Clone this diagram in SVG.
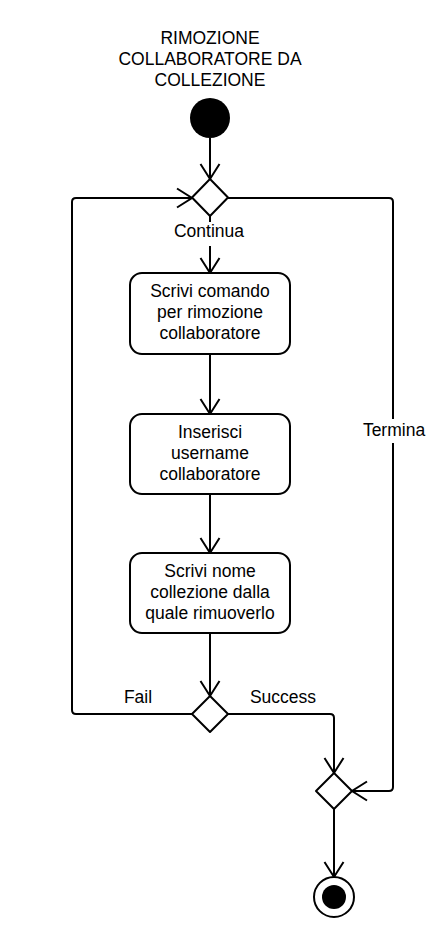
<svg xmlns="http://www.w3.org/2000/svg" width="442" height="950" viewBox="0 0 442 950">
<style>
.ln{fill:none;stroke:#000;stroke-width:2;stroke-linejoin:round}
.bx{fill:#fff;stroke:#000;stroke-width:2}
.t{font-family:"Liberation Sans",Arial,sans-serif;font-size:17.5px;fill:#000;text-anchor:middle}
</style>
<defs>
<marker id="a" viewBox="-16 -11 18 22" refX="0" refY="0" markerWidth="18" markerHeight="22" markerUnits="userSpaceOnUse" orient="auto">
<path d="M-15,-9.5 L0,0 L-15,9.5" fill="none" stroke="#000" stroke-width="2"/>
</marker>
</defs>
<rect width="442" height="950" fill="#fff"/>
<g id="title">
<text class="t" x="210" y="44">RIMOZIONE</text>
<text class="t" x="210" y="65">COLLABORATORE DA</text>
<text class="t" x="210" y="86">COLLEZIONE</text>
</g>
<g id="connectors">
<path class="ln" d="M210,138 V179" marker-end="url(#a)"/>
<path class="ln" d="M210,216 V222"/>
<path class="ln" d="M210,246 V273" marker-end="url(#a)"/>
<path class="ln" d="M210,354 V414" marker-end="url(#a)"/>
<path class="ln" d="M210,494 V553" marker-end="url(#a)"/>
<path class="ln" d="M210,633 V696" marker-end="url(#a)"/>
<path class="ln" d="M192,714 H76 Q72,714 72,710 V202 Q72,198 76,198 H192" marker-end="url(#a)"/>
<path class="ln" d="M228,714 H330 Q334,714 334,718 V773" marker-end="url(#a)"/>
<path class="ln" d="M228,198 H389 Q393,198 393,202 V419"/>
<path class="ln" d="M393,443 V787 Q393,791 389,791 H352" marker-end="url(#a)"/>
<path class="ln" d="M334,809 V877" marker-end="url(#a)"/>
<text class="t" x="209" y="237">Continua</text>
<text class="t" x="394" y="436">Termina</text>
<text class="t" x="138" y="703">Fail</text>
<text class="t" x="283" y="703">Success</text>
</g>
<g id="start"><circle cx="210" cy="118" r="20" fill="#000"/></g>
<g id="merge1"><path class="bx" d="M210,179 L228,197.5 L210,216 L192,197.5 Z" stroke-linejoin="round"/></g>
<g id="box1">
<rect class="bx" x="130" y="273" width="160" height="81" rx="12"/>
<text class="t" x="210" y="297">Scrivi comando</text>
<text class="t" x="210" y="318">per rimozione</text>
<text class="t" x="210" y="339">collaboratore</text>
</g>
<g id="box2">
<rect class="bx" x="130" y="414" width="160" height="80" rx="12"/>
<text class="t" x="210" y="438">Inserisci</text>
<text class="t" x="210" y="459">username</text>
<text class="t" x="210" y="480">collaboratore</text>
</g>
<g id="box3">
<rect class="bx" x="130" y="553" width="160" height="80" rx="12"/>
<text class="t" x="210" y="577">Scrivi nome</text>
<text class="t" x="210" y="598">collezione dalla</text>
<text class="t" x="210" y="619">quale rimuoverlo</text>
</g>
<g id="decision"><path class="bx" d="M210,696 L228,714 L210,732 L192,714 Z" stroke-linejoin="round"/></g>
<g id="merge2"><path class="bx" d="M334,773 L352,791 L334,809 L316,791 Z" stroke-linejoin="round"/></g>
<g id="end">
<circle cx="334" cy="897" r="20" fill="#fff" stroke="#000" stroke-width="2"/>
<circle cx="334" cy="897" r="12" fill="#000"/>
</g>
</svg>
